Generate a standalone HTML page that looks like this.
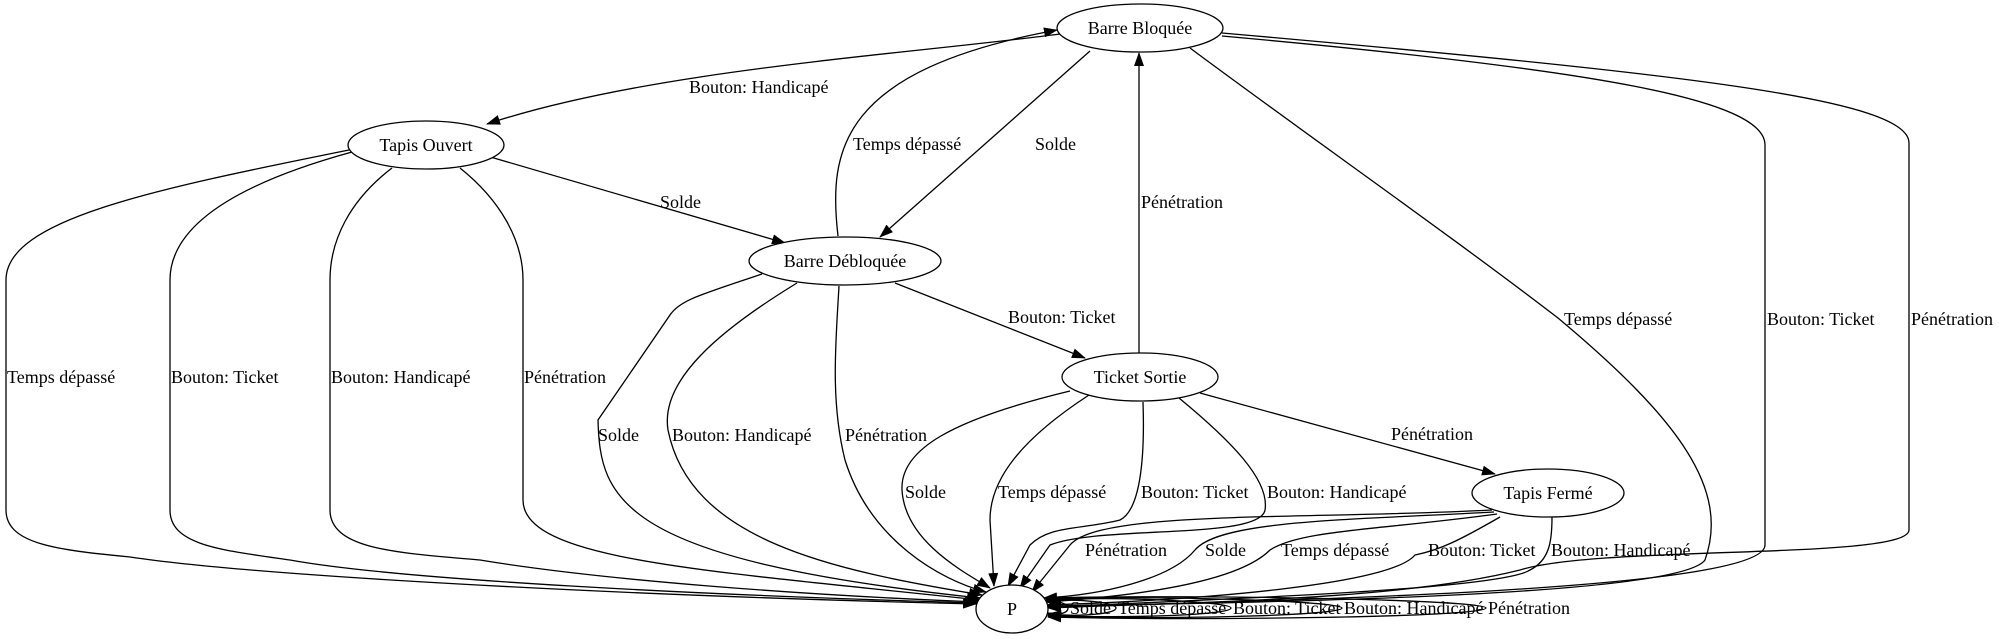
<!DOCTYPE html>
<html><head><meta charset="utf-8"><style>
html,body{margin:0;padding:0;background:#fff;}
svg{display:block;}
text{font-family:"Liberation Serif",serif;font-size:18px;fill:#000;}
</style></head><body>
<svg width="1999" height="639" viewBox="0 0 1999 639" xmlns="http://www.w3.org/2000/svg">
<defs>
<marker id="a" markerUnits="userSpaceOnUse" markerWidth="14" markerHeight="10" refX="13" refY="5" orient="auto">
<path d="M0,0 L14,5 L0,10 Z" fill="#000"/>
</marker>
</defs>
<g fill="none" stroke="#000" stroke-width="1.3" marker-end="url(#a)">
<path d="M1060,34 C900,55 650,70 487,124"/>
<path d="M838,236 C828,150 840,70 1057,30"/>
<path d="M1090,51 L880,237"/>
<path d="M487,156 L785,243"/>
<path d="M1139,353 L1139,53"/>
<path d="M895,283 L1085,358"/>
<path d="M1200,393 L1495,474"/>
<path d="M1190,48 C1300,130 1450,235 1558,318 C1680,420 1730,490 1705,560 C1680,595 1300,602 1048,606"/>
<path d="M1222,36 C1600,70 1765,100 1765,145 L1765,545 C1765,590 1300,600 1048,607"/>
<path d="M1222,33 C1700,75 1909,100 1909,143 L1909,530 C1909,560 1600,545 1520,570 C1400,600 1200,602 1048,608"/>
<path d="M349,150 C150,190 6,220 6,280 L6,510 C6,545 60,550 130,557 C250,575 600,595 976,604"/>
<path d="M352,152 C250,180 170,220 170,280 L170,510 C170,545 220,550 290,560 C400,580 700,595 977,603"/>
<path d="M392,168 C350,200 330,240 330,280 L330,510 C330,550 400,553 480,560 C600,580 800,595 978,602"/>
<path d="M460,168 C500,200 523,240 523,280 L523,500 C523,560 700,570 980,600"/>
<path d="M762,274 C700,295 680,300 670,315 L598,420 C600,500 620,560 980,598"/>
<path d="M797,283 C720,330 660,380 668,430 C690,540 830,570 982,595"/>
<path d="M839,286 C836,340 830,400 845,460 C870,540 940,580 986,592"/>
<path d="M1070,391 C950,420 900,450 902,490 C905,540 960,570 990,588"/>
<path d="M1089,395 C1020,440 990,480 990,520 L994,586"/>
<path d="M1143,402 C1145,460 1140,510 1120,520 C1080,530 1050,525 1030,545 L1008,586"/>
<path d="M1179,398 C1230,440 1270,480 1265,510 C1260,540 1100,525 1050,545 L1020,588"/>
<path d="M1492,510 C1300,520 1100,510 1070,545 L1032,592"/>
<path d="M1494,512 C1350,520 1220,520 1195,550 C1170,580 1100,595 1044,598"/>
<path d="M1497,514 C1380,530 1300,530 1270,550 C1240,580 1150,595 1046,602"/>
<path d="M1500,517 C1460,540 1440,550 1415,555 C1390,585 1200,600 1047,605"/>
<path d="M1552,517 C1552,540 1550,560 1530,570 C1500,590 1200,600 1048,607"/>
<path d="M1046,602 C1058,600 1068,604 1068,608 C1068,613 1058,616 1048,613"/>
<path d="M1046,601 C1080,598 1116,603 1116,608 C1116,614 1080,617 1048,614"/>
<path d="M1046,600 C1120,596 1231,602 1231,608 C1231,615 1120,619 1048,615"/>
<path d="M1046,599 C1150,595 1342,601 1342,608 C1342,616 1150,620 1048,616"/>
<path d="M1046,598 C1200,594 1486,600 1486,608 C1486,617 1200,621 1048,617"/>
</g>
<g fill="#fff" stroke="#000" stroke-width="1.3">
<ellipse cx="1140" cy="28" rx="83" ry="24"/>
<ellipse cx="426" cy="145" rx="78" ry="24"/>
<ellipse cx="845" cy="261" rx="96" ry="24"/>
<ellipse cx="1140" cy="377" rx="78" ry="24"/>
<ellipse cx="1548" cy="493" rx="76" ry="24"/>
<ellipse cx="1012" cy="609" rx="36" ry="24"/>
</g>
<g text-anchor="middle">
<text x="1140" y="34">Barre Bloquée</text>
<text x="426" y="151">Tapis Ouvert</text>
<text x="845" y="267">Barre Débloquée</text>
<text x="1140" y="383">Ticket Sortie</text>
<text x="1548" y="499">Tapis Fermé</text>
<text x="1012" y="615">P</text>
</g>
<g>
<text x="689" y="93">Bouton: Handicapé</text>
<text x="853" y="150">Temps dépassé</text>
<text x="1035" y="150">Solde</text>
<text x="660" y="208">Solde</text>
<text x="1141" y="208">Pénétration</text>
<text x="1008" y="323">Bouton: Ticket</text>
<text x="1564" y="325">Temps dépassé</text>
<text x="1767" y="325">Bouton: Ticket</text>
<text x="1911" y="325">Pénétration</text>
<text x="7" y="383">Temps dépassé</text>
<text x="171" y="383">Bouton: Ticket</text>
<text x="331" y="383">Bouton: Handicapé</text>
<text x="524" y="383">Pénétration</text>
<text x="598" y="441">Solde</text>
<text x="672" y="441">Bouton: Handicapé</text>
<text x="845" y="441">Pénétration</text>
<text x="1391" y="440">Pénétration</text>
<text x="905" y="498">Solde</text>
<text x="998" y="498">Temps dépassé</text>
<text x="1141" y="498">Bouton: Ticket</text>
<text x="1267" y="498">Bouton: Handicapé</text>
<text x="1085" y="556">Pénétration</text>
<text x="1205" y="556">Solde</text>
<text x="1281" y="556">Temps dépassé</text>
<text x="1428" y="556">Bouton: Ticket</text>
<text x="1551" y="556">Bouton: Handicapé</text>
<text x="1070" y="614">Solde</text>
<text x="1118" y="614">Temps dépassé</text>
<text x="1233" y="614">Bouton: Ticket</text>
<text x="1344" y="614">Bouton: Handicapé</text>
<text x="1488" y="614">Pénétration</text>
</g>
</svg>
</body></html>
